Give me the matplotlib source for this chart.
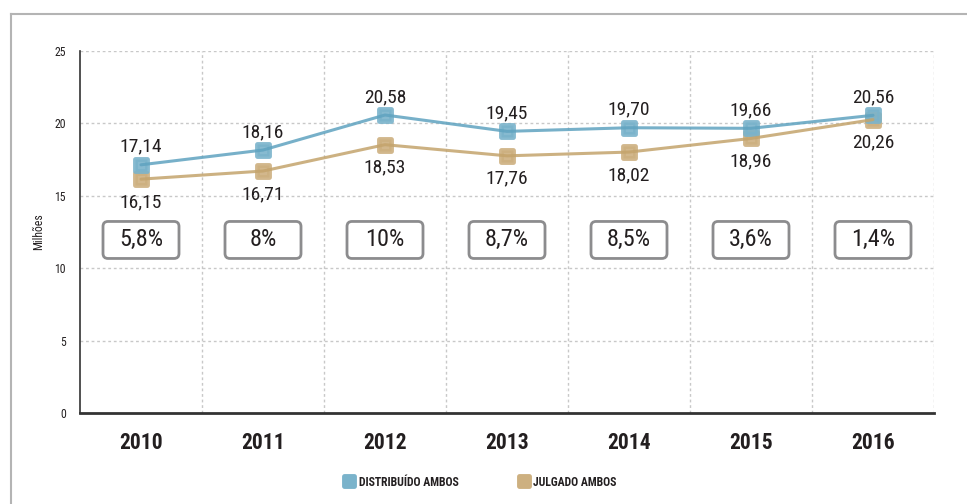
import matplotlib
matplotlib.use("Agg")
import matplotlib.pyplot as plt
from matplotlib.patches import FancyBboxPatch
from matplotlib.markers import MarkerStyle
from matplotlib.lines import Line2D
import matplotlib.font_manager as fm

years = ["2010", "2011", "2012", "2013", "2014", "2015", "2016"]
distribuido = [17.14, 18.16, 20.58, 19.45, 19.70, 19.66, 20.56]
julgado = [16.15, 16.71, 18.53, 17.76, 18.02, 18.96, 20.26]
variacao = ["5,8%", "8%", "10%", "8,7%", "8,5%", "3,6%", "1,4%"]
yticks = [0, 5, 10, 15, 20, 25]
series_names = ["DISTRIBUÍDO AMBOS", "JULGADO AMBOS"]

names = {f.name for f in fm.fontManager.ttflist}
fam = "DejaVu Sans"
for cand in ["Roboto Condensed", "Archivo Narrow", "PT Sans Narrow", "Barlow Semi Condensed", "Liberation Sans Narrow"]:
    if cand in names:
        fam = cand
        break
plt.rcParams["font.family"] = [fam, "DejaVu Sans"]

TXT = "#231f20"
BLUE_M = "#7ab3cb"
BLUE_L = "#5fa3c0"
TAN_M = "#cdb080"
TAN_L = "#c4a46c"

W, H = 967, 504
fig = plt.figure(figsize=(W / 100, H / 100), dpi=100)
l, r, b, t = 80 / W, 934 / W, (H - 413) / H, (H - 51) / H
ax = fig.add_axes([l, b, r - l, t - b])

n = len(years)
x = list(range(n))
ax.set_xlim(-0.5, n - 0.5)
ax.set_ylim(0, 25)

# grid
for v in yticks[1:]:
    ax.axhline(v, color="#c8c8c8", lw=1, ls=(0, (2, 2)), zorder=0)
for i in range(n):
    ax.axvline(i + 0.5, color="#c8c8c8", lw=1, ls=(0, (2, 2)), zorder=0)

for s in ["top", "right"]:
    ax.spines[s].set_visible(False)
ax.spines["left"].set_color("#333333")
ax.spines["bottom"].set_color("#333333")
ax.spines["left"].set_linewidth(1.2)
ax.spines["bottom"].set_linewidth(2)

ax.set_yticks(yticks)
ax.set_yticklabels([str(v) for v in yticks], fontsize=8.5, color=TXT)
ax.set_xticks(x)
ax.set_xticklabels(years, fontsize=15.5, color=TXT, fontweight="bold")
ax.tick_params(axis="both", length=0)
ax.tick_params(axis="y", pad=10)
ax.tick_params(axis="x", pad=14)
ax.set_ylabel("Milhões", fontsize=8.5, color=TXT, labelpad=7)

ms = MarkerStyle("s", joinstyle="round")
ax.plot(x, julgado, ls="none", marker=ms, ms=8.5, mfc=TAN_M, mec=TAN_M, mew=3.5, alpha=0.9, zorder=3)
ax.plot(x, distribuido, ls="none", marker=ms, ms=8.5, mfc=BLUE_M, mec=BLUE_M, mew=3.5, alpha=0.9, zorder=3)
ax.plot(x, julgado, color=TAN_L, lw=2.2, alpha=0.85, zorder=4, solid_capstyle="round")
ax.plot(x, distribuido, color=BLUE_L, lw=2.2, alpha=0.85, zorder=4, solid_capstyle="round")

for i in x:
    ax.annotate(f"{distribuido[i]:.2f}".replace(".", ","), (i, distribuido[i]), xytext=(0, 13),
                textcoords="offset points", ha="center", va="center", fontsize=14, color=TXT,
                fontweight="normal", zorder=6)
    ax.annotate(f"{julgado[i]:.2f}".replace(".", ","), (i, julgado[i]), xytext=(0, -16.5),
                textcoords="offset points", ha="center", va="center", fontsize=14, color=TXT,
                fontweight="normal", zorder=6)

# percentage boxes
xpx = (r - l) * W / n
ypx = (t - b) * H / 25
bw = 76 / xpx
bh = 37 / ypx
yc = 11.95
aspect = xpx / ypx
for i in x:
    box = FancyBboxPatch((i - bw / 2, yc - bh / 2), bw, bh,
                         boxstyle=f"round,pad=0,rounding_size={5 / xpx}",
                         mutation_aspect=aspect, fc="white", ec="#8c8c8e", lw=2, zorder=5)
    ax.add_patch(box)
    ax.text(i, yc, variacao[i], ha="center", va="center", fontsize=17.5, color=TXT,
            fontweight="normal", zorder=6)

# legend
handles = [
    Line2D([], [], ls="none", marker=ms, ms=7.5, mfc=BLUE_M, mec=BLUE_M, mew=3.5),
    Line2D([], [], ls="none", marker=ms, ms=7.5, mfc=TAN_M, mec=TAN_M, mew=3.5),
]
leg = fig.legend(handles, series_names, loc="center", bbox_to_anchor=(480 / W, (H - 482) / H),
                 ncol=2, frameon=False, handlelength=1.0, handletextpad=0.3, columnspacing=5.0,
                 prop={"size": 8.5, "weight": "bold"})
for tx in leg.get_texts():
    tx.set_color(TXT)

# outer border
fig.add_artist(Line2D([11 / W, 11 / W], [0, (H - 14) / H], color="#b4b4b4", lw=1.5, transform=fig.transFigure))
fig.add_artist(Line2D([11 / W, 1], [(H - 14) / H, (H - 14) / H], color="#b4b4b4", lw=1.5, transform=fig.transFigure))

fig.savefig("out.png", dpi=100)
